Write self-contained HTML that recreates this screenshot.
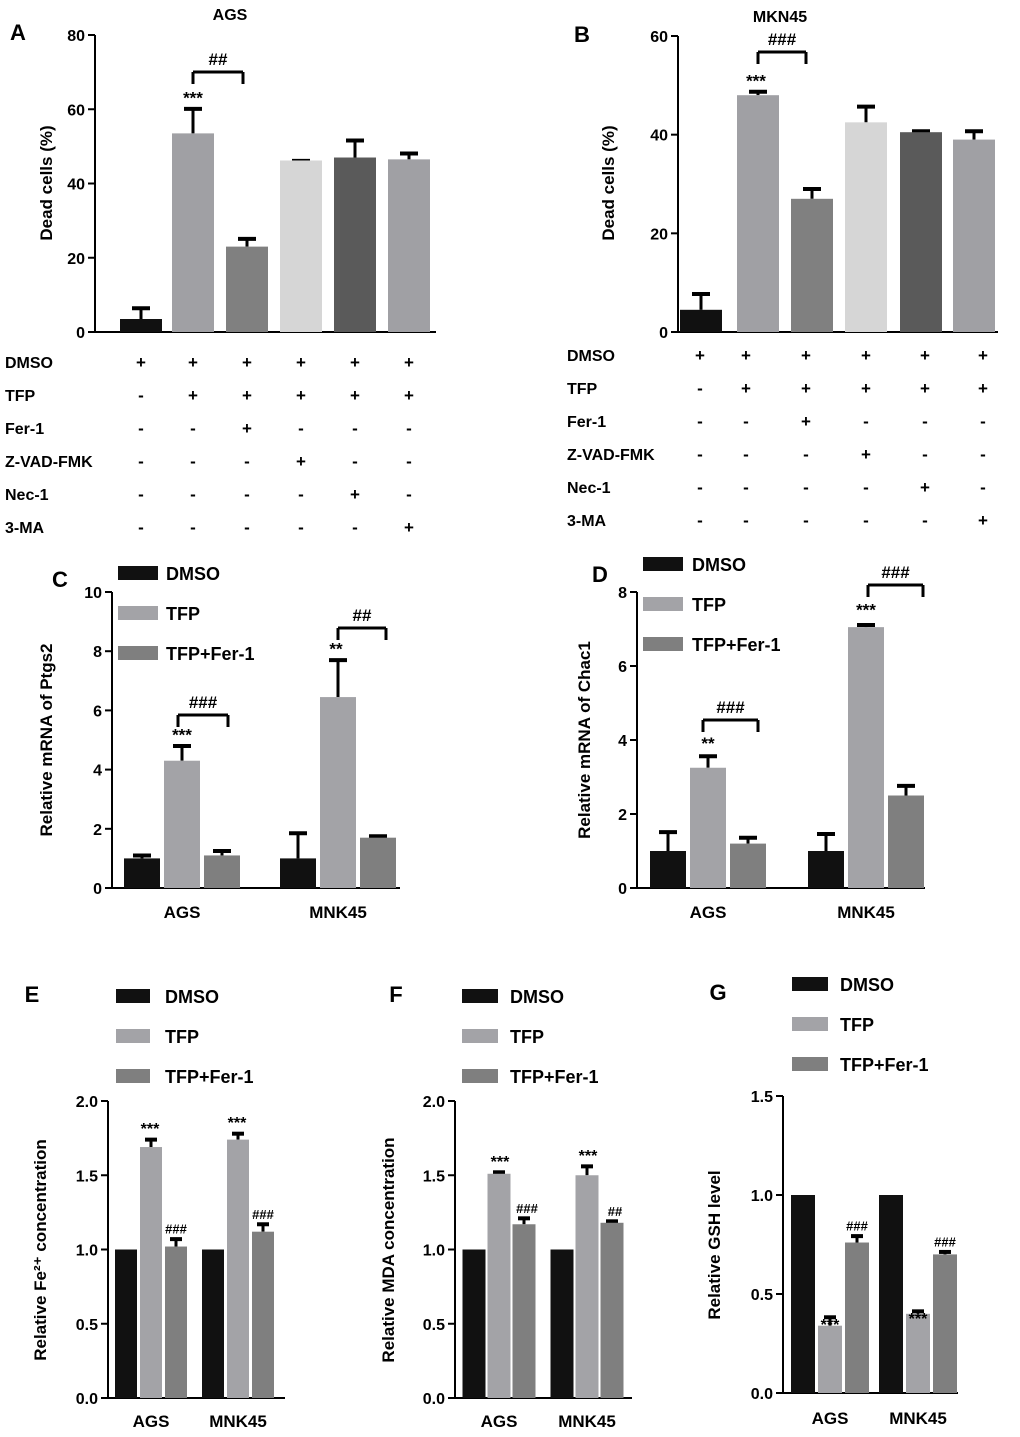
<!DOCTYPE html>
<html><head><meta charset="utf-8">
<style>
html,body{margin:0;padding:0;background:#fff;}
svg{display:block;font-family:"Liberation Sans",Arial,sans-serif;font-weight:bold;}
</style></head>
<body>
<svg id="fig" width="1020" height="1437" viewBox="0 0 1020 1437" xmlns="http://www.w3.org/2000/svg"></svg>
<script>
// ---------- data ----------
const aValues=[3.5,53.5,23,46.2,47,46.5];
const aErr=[6.8,60.5,25.5,46.5,52,48.5];
const bValues=[4.5,48,27,42.5,40.5,39];
const bErr=[8,49,29.3,46,41,41];
const groupCats=["AGS","MNK45"];
const seriesNames=["DMSO","TFP","TFP+Fer-1"];
const cDMSO=[1,1],cTFP=[4.3,6.45],cFer=[1.1,1.7];
const cDMSOe=[1.15,1.9],cTFPe=[4.85,7.75],cFere=[1.3,1.8];
const dDMSO=[1,1],dTFP=[3.25,7.05],dFer=[1.2,2.5];
const dDMSOe=[1.55,1.5],dTFPe=[3.6,7.15],dFere=[1.4,2.8];
const eDMSO=[1,1],eTFP=[1.69,1.74],eFer=[1.02,1.12];
const eTFPe=[1.75,1.79],eFere=[1.08,1.18];
const fDMSO=[1,1],fTFP=[1.51,1.5],fFer=[1.17,1.18];
const fTFPe=[1.53,1.57],fFere=[1.22,1.2];
const gDMSO=[1,1],gTFP=[0.34,0.4],gFer=[0.76,0.7];
const gTFPe=[0.39,0.42],gFere=[0.8,0.72];
const abTicks=[[0,20,40,60,80],[0,20,40,60]];
const cTicks=[0,2,4,6,8,10],dTicks=[0,2,4,6,8];
const efTicks=["0.0","0.5","1.0","1.5","2.0"],gTicks=["0.0","0.5","1.0","1.5"];
const treatRows=["DMSO","TFP","Fer-1","Z-VAD-FMK","Nec-1","3-MA"];
const treatSigns=[
 ["+","+","+","+","+","+"],
 ["-","+","+","+","+","+"],
 ["-","-","+","-","-","-"],
 ["-","-","-","+","-","-"],
 ["-","-","-","-","+","-"],
 ["-","-","-","-","-","+"]];
// ---------- helpers ----------
const S=document.getElementById('fig');const NS="http://www.w3.org/2000/svg";
function el(t,a,p){const e=document.createElementNS(NS,t);for(const k in a)e.setAttribute(k,a[k]);(p||S).appendChild(e);return e;}
function txt(x,y,s,size,anchor,name,extra){const e=el('text',Object.assign({x:x,y:y,'font-size':size,'text-anchor':anchor||'middle',fill:'#000'},extra||{}));e.textContent=s;


return e;}
function line(x1,y1,x2,y2,name,w){const e=el('line',{x1:x1,y1:y1,x2:x2,y2:y2,stroke:'#000','stroke-width':w||2});


return e;}
function bar(x,w,y0,y1,color,name){const e=el('rect',{x:x-w/2,y:y1,width:w,height:y0-y1,fill:color});


return e;}
function errbar(x,yTop,yBar,cap,name){line(x,yBar,x,yTop,name,3);line(x-cap,yTop+1.5,x+cap,yTop+1.5,name+'-cap',4);}
function axes(p){
 const sc=v=>p.y0-(v/p.max)*(p.y0-p.yTop);
 line(p.x0,p.y0+1,p.x0,p.yTop,p.id+'-y-axis');
 line(p.x0,p.y0,p.xEnd,p.y0,p.id+'-x-axis');
 p.ticks.forEach(t=>{const v=parseFloat(t);const y=sc(v);line(p.x0-7,y,p.x0,y,p.id+'-y-tick');txt(p.x0-10,y+6,String(t),16,'end',p.id+'-y-tick-label');});
 return sc;}
function ytitle(x,y,s,name,size){const e=txt(x,y,s,size||17,'middle',name,{transform:`rotate(-90 ${x} ${y})`});return e;}
function bracket(x1,x2,y,lab,name){line(x1,y+12,x1,y,name,3);line(x1,y,x2,y,name,3);line(x2,y,x2,y+12,name,3);txt((x1+x2)/2,y-7,lab,17,'middle',name+'-label');}
const BLACK='#111',LG='#a3a3a7',DG='#7f7f7f';
// ---------- A ----------
txt(18,40,"A",22,'middle','panel-label-a');txt(230,20,"AGS",16,'middle','panel-a-title');
let sc=axes({id:'a',x0:95,y0:332,yTop:35,max:80,ticks:abTicks[0],xEnd:436});
const aX=[141,193,247,301,355,409],aCol=[BLACK,'#a0a0a4','#808080','#d6d6d6','#5a5a5a','#a0a0a4'];
aValues.forEach((v,i)=>{errbar(aX[i],sc(aErr[i]),sc(v),9,'a-error-bar');bar(aX[i],42,332,sc(v),aCol[i],'a-bar');});
txt(193,sc(aErr[1])-4,"***",17,'middle','a-sig-stars');
bracket(193,243,72,"##",'a-bracket');
ytitle(52,183,"Dead cells (%)",'a-y-axis-title');
treatRows.forEach((r,j)=>{const y=368+j*33;txt(5,y,r,16,'start','a-row-label');treatSigns[j].forEach((s,i)=>txt(aX[i],y,s,17,'middle','a-sign'));});
// ---------- B ----------
txt(582,42,"B",22,'middle','panel-label-b');txt(780,22,"MKN45",16,'middle','panel-b-title');
sc=axes({id:'b',x0:678,y0:332,yTop:36,max:60,ticks:abTicks[1],xEnd:998});
const bX=[701,758,812,866,921,974];
bValues.forEach((v,i)=>{errbar(bX[i],sc(bErr[i]),sc(v),9,'b-error-bar');bar(bX[i],42,332,sc(v),aCol[i],'b-bar');});
txt(756,sc(bErr[1])-4,"***",17,'middle','b-sig-stars');
bracket(758,806,52,"###",'b-bracket');
ytitle(614,183,"Dead cells (%)",'b-y-axis-title');
const bSX=[700,746,806,866,925,983];
treatRows.forEach((r,j)=>{const y=361+j*33;txt(567,y,r,16,'start','b-row-label');treatSigns[j].forEach((s,i)=>txt(bSX[i],y,s,17,'middle','b-sign'));});
// ---------- grouped panels ----------
function grouped(p){
 const sc=axes(p);
 const sets=[[p.d0,p.e0],[p.d1,p.e1],[p.d2,p.e2]];const cols=[BLACK,LG,DG];
 groupCats.forEach((c,g)=>{
  sets.forEach((s,k)=>{const x=p.gx[g]+(k-1)*p.gap;const v=s[0][g];
   if(s[1]){errbar(x,sc(s[1][g]),sc(v),p.cap,p.id+'-error-bar');}
   bar(x,p.bw,p.y0,sc(v),cols[k],p.id+'-bar-'+seriesNames[k].toLowerCase().replace(/\W+/g,'-')+'-'+c.toLowerCase());});
  txt(p.gx[g],p.xl,c,17,'middle',p.id+'-x-tick-label');
 });
 seriesNames.forEach((n,k)=>{const y=p.ly+k*40;const r=el('rect',{x:p.lx,y:y-7,width:p.lw,height:14,fill:cols[k]});
  
  
  txt(p.lt,y+7,n,18,'start',p.id+'-legend-entry');});
 return sc;}
// C
txt(60,587,"C",22,'middle','panel-label-c');
sc=grouped({id:'c',x0:112,y0:888,yTop:592,max:10,ticks:cTicks,xEnd:400,gx:[182,338],gap:40,bw:36,cap:9,d0:cDMSO,e0:cDMSOe,d1:cTFP,e1:cTFPe,d2:cFer,e2:cFere,xl:918,ly:573,lx:118,lw:40,lt:166});
txt(182,sc(cTFPe[0])-4,"***",17,'middle','c-sig');txt(336,sc(cTFPe[1])-4,"**",17,'middle','c-sig');
bracket(178,228,715,"###",'c-bracket-ags');bracket(338,386,628,"##",'c-bracket-mnk45');
ytitle(52,740,"Relative mRNA of Ptgs2",'c-y-axis-title');
// D
txt(600,582,"D",22,'middle','panel-label-d');
sc=grouped({id:'d',x0:637,y0:888,yTop:592,max:8,ticks:dTicks,xEnd:925,gx:[708,866],gap:40,bw:36,cap:9,d0:dDMSO,e0:dDMSOe,d1:dTFP,e1:dTFPe,d2:dFer,e2:dFere,xl:918,ly:564,lx:643,lw:40,lt:692});
txt(708,sc(dTFPe[0])-6,"**",17,'middle','d-sig');txt(866,sc(dTFPe[1])-8,"***",17,'middle','d-sig');
bracket(703,758,720,"###",'d-bracket-ags');bracket(868,923,585,"###",'d-bracket-mnk45');
ytitle(590,740,"Relative mRNA of Chac1",'d-y-axis-title');
// E
txt(32,1002,"E",22,'middle','panel-label-e');
sc=grouped({id:'e',x0:108,y0:1398,yTop:1101,max:2,ticks:efTicks,xEnd:285,gx:[151,238],gap:25,bw:22,cap:6,d0:eDMSO,e0:null,d1:eTFP,e1:eTFPe,d2:eFer,e2:eFere,xl:1427,ly:996,lx:116,lw:34,lt:165});
[0,1].forEach(g=>{txt(150+87*g,sc(eTFPe[g])-4,"***",16,'middle','e-sig');txt(176+87*g,sc(eFere[g])-4,"###",13,'middle','e-sig');});
ytitle(46,1250,"Relative Fe²⁺ concentration",'e-y-axis-title');
// F
txt(396,1002,"F",22,'middle','panel-label-f');
sc=grouped({id:'f',x0:455,y0:1398,yTop:1101,max:2,ticks:efTicks,xEnd:632,gx:[499,587],gap:25,bw:23,cap:6,d0:fDMSO,e0:null,d1:fTFP,e1:fTFPe,d2:fFer,e2:fFere,xl:1427,ly:996,lx:462,lw:36,lt:510});
[0,1].forEach(g=>{txt(500+88*g,sc(fTFPe[g])-4,"***",16,'middle','f-sig');txt(527+88*g,sc(fFere[g])-4,g?"##":"###",13,'middle','f-sig');});
ytitle(394,1250,"Relative MDA concentration",'f-y-axis-title');
// G
txt(718,1000,"G",22,'middle','panel-label-g');
sc=grouped({id:'g',x0:783,y0:1393,yTop:1096,max:1.5,ticks:gTicks,xEnd:958,gx:[830,918],gap:27,bw:24,cap:6,d0:gDMSO,e0:null,d1:gTFP,e1:gTFPe,d2:gFer,e2:gFere,xl:1424,ly:984,lx:792,lw:36,lt:840});
[0,1].forEach(g=>{txt(830+88*g,sc(gTFPe[g])+14,"***",16,'middle','g-sig');txt(857+88*g,sc(gFere[g])-4,"###",13,'middle','g-sig');});
ytitle(720,1245,"Relative GSH level",'g-y-axis-title');
</script>
</body></html>
